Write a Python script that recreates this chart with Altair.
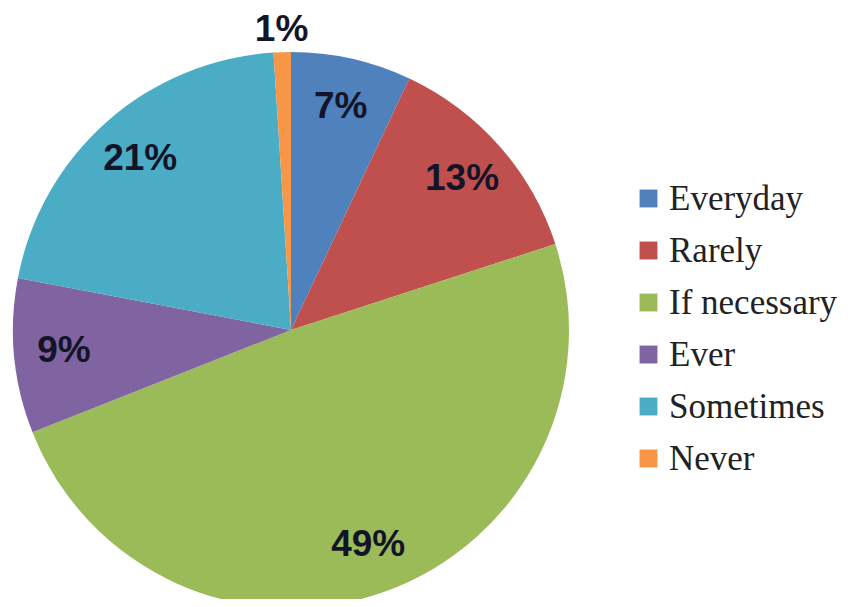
import altair as alt
import pandas as pd

categories = ["Everyday", "Rarely", "If necessary", "Ever", "Sometimes", "Never"]
values = [7, 13, 49, 9, 21, 1]
labels = ["7%", "13%", "49%", "9%", "21%", "1%"]
colors = ["#4F81BD", "#C0504D", "#9BBB59", "#8064A2", "#4BACC6", "#F79646"]

df = pd.DataFrame({"category": categories, "value": values, "label": labels,
                   "order": list(range(len(categories)))})

cx, cy, R = 283, 322, 278

base = alt.Chart(df).encode(
    theta=alt.Theta("value:Q", stack=True),
    order=alt.Order("order:Q"),
)

pie = base.mark_arc(radius=R, strokeWidth=0).encode(
    x=alt.value(cx), y=alt.value(cy),
    color=alt.Color("category:N", sort=categories,
                    scale=alt.Scale(domain=categories, range=colors),
                    legend=alt.Legend(title=None, orient="none", legendX=623, legendY=173,
                                      symbolType="square", symbolSize=320, symbolStrokeWidth=0,
                                      labelFont="Liberation Serif, Times New Roman, DejaVu Serif, serif",
                                      labelFontSize=35, labelLimit=400,
                                      labelColor="#222222", rowPadding=16, labelOffset=3,
                                      symbolOpacity=1)),
)

text_style = dict(font="Liberation Sans", fontWeight="bold", fontSize=37, color="#141428")

inside = base.mark_text(radius=228, **text_style).encode(
    x=alt.value(cx), y=alt.value(cy), text="label:N",
    opacity=alt.condition(alt.datum.category == "Never", alt.value(0), alt.value(1)),
)

outside = base.mark_text(radius=300, **text_style).encode(
    x=alt.value(cx), y=alt.value(cy), text="label:N",
    opacity=alt.condition(alt.datum.category == "Never", alt.value(1), alt.value(0)),
)

chart = alt.layer(pie, inside, outside).properties(
    width=844, height=591, padding=0, autosize=alt.AutoSizeParams(type="none")
).configure_view(stroke=None)

chart.save("out.html", embed_options={"renderer": "svg", "actions": False})
